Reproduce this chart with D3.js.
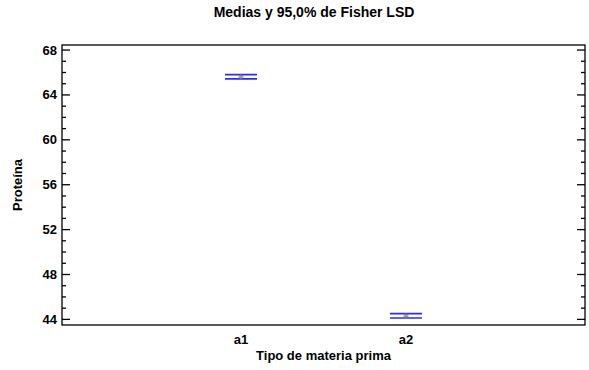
<!DOCTYPE html>
<html>
<head>
<meta charset="utf-8">
<script src="https://cdn.jsdelivr.net/npm/d3@7/dist/d3.min.js"></script>
<style>
  html, body { margin: 0; padding: 0; background: #fff; }
  svg text { font-family: "Liberation Sans", Arial, sans-serif; font-weight: bold; fill: #000; }
</style>
</head>
<body>
<svg id="chart" width="589" height="370"></svg>
<script>
// Fisher LSD means plot: protein by raw material type
const categories = ["a1", "a2"];
const means = [65.62, 44.32];
const lowerLimits = [65.43, 44.13];
const upperLimits = [65.81, 44.51];
const yTicks = [44, 48, 52, 56, 60, 64, 68];

const svg = d3.select("#chart");
const frame = { left: 62, right: 585, top: 45, bottom: 325 };

const x = d3.scalePoint()
  .domain(categories)
  .range([frame.left, frame.right])
  .padding(1.085);

const y = d3.scaleLinear()
  .domain([43.5, 68.45])
  .range([frame.bottom, frame.top]);

// Title
svg.append("text")
  .attr("x", 314).attr("y", 17)
  .attr("text-anchor", "middle")
  .attr("font-size", 14)
  .text("Medias y 95,0% de Fisher LSD");

// Plot frame
svg.append("rect")
  .attr("x", frame.left).attr("y", frame.top)
  .attr("width", frame.right - frame.left)
  .attr("height", frame.bottom - frame.top)
  .attr("fill", "none").attr("stroke", "#000").attr("stroke-width", 1.3);

// Major and minor ticks on left and right edges
const minorTicks = d3.range(44, 69, 1).filter(v => !yTicks.includes(v));
const tickG = svg.append("g").attr("stroke", "#000").attr("stroke-width", 1.3);
yTicks.forEach(v => {
  tickG.append("line").attr("x1", frame.left).attr("x2", frame.left + 8).attr("y1", y(v)).attr("y2", y(v));
  tickG.append("line").attr("x1", frame.right).attr("x2", frame.right - 8).attr("y1", y(v)).attr("y2", y(v));
});
minorTicks.forEach(v => {
  tickG.append("line").attr("x1", frame.left).attr("x2", frame.left + 4).attr("y1", y(v)).attr("y2", y(v));
  tickG.append("line").attr("x1", frame.right).attr("x2", frame.right - 4).attr("y1", y(v)).attr("y2", y(v));
});

// Y tick labels
svg.append("g").selectAll("text").data(yTicks).join("text")
  .attr("x", frame.left - 5).attr("y", d => y(d))
  .attr("dy", "0.35em")
  .attr("text-anchor", "end")
  .attr("font-size", 13)
  .text(d => d);

// X category labels
svg.append("g").selectAll("text").data(categories).join("text")
  .attr("x", d => x(d)).attr("y", 344)
  .attr("text-anchor", "middle")
  .attr("font-size", 13)
  .text(d => d);

// Axis titles
svg.append("text")
  .attr("x", (frame.left + frame.right) / 2).attr("y", 360)
  .attr("text-anchor", "middle")
  .attr("font-size", 13)
  .text("Tipo de materia prima");

svg.append("text")
  .attr("transform", `translate(22,${(frame.top + frame.bottom) / 2}) rotate(-90)`)
  .attr("text-anchor", "middle")
  .attr("font-size", 13)
  .text("Proteína");

// LSD intervals and means
const capHalf = 16;
const groups = svg.append("g").selectAll("g").data(categories).join("g");
groups.append("line")
  .attr("x1", d => x(d)).attr("x2", d => x(d))
  .attr("y1", (d, i) => y(lowerLimits[i])).attr("y2", (d, i) => y(upperLimits[i]))
  .attr("stroke", "#2a2aff").attr("stroke-width", 1);
groups.append("line")
  .attr("x1", d => x(d) - capHalf).attr("x2", d => x(d) + capHalf)
  .attr("y1", (d, i) => y(upperLimits[i])).attr("y2", (d, i) => y(upperLimits[i]))
  .attr("stroke", "#2a2aff").attr("stroke-width", 1.6);
groups.append("line")
  .attr("x1", d => x(d) - capHalf).attr("x2", d => x(d) + capHalf)
  .attr("y1", (d, i) => y(lowerLimits[i])).attr("y2", (d, i) => y(lowerLimits[i]))
  .attr("stroke", "#2a2aff").attr("stroke-width", 1.6);
groups.append("circle")
  .attr("cx", d => x(d)).attr("cy", (d, i) => y(means[i]))
  .attr("r", 2)
  .attr("fill", "none").attr("stroke", "#8a7a3a").attr("stroke-width", 1);
</script>
</body>
</html>
